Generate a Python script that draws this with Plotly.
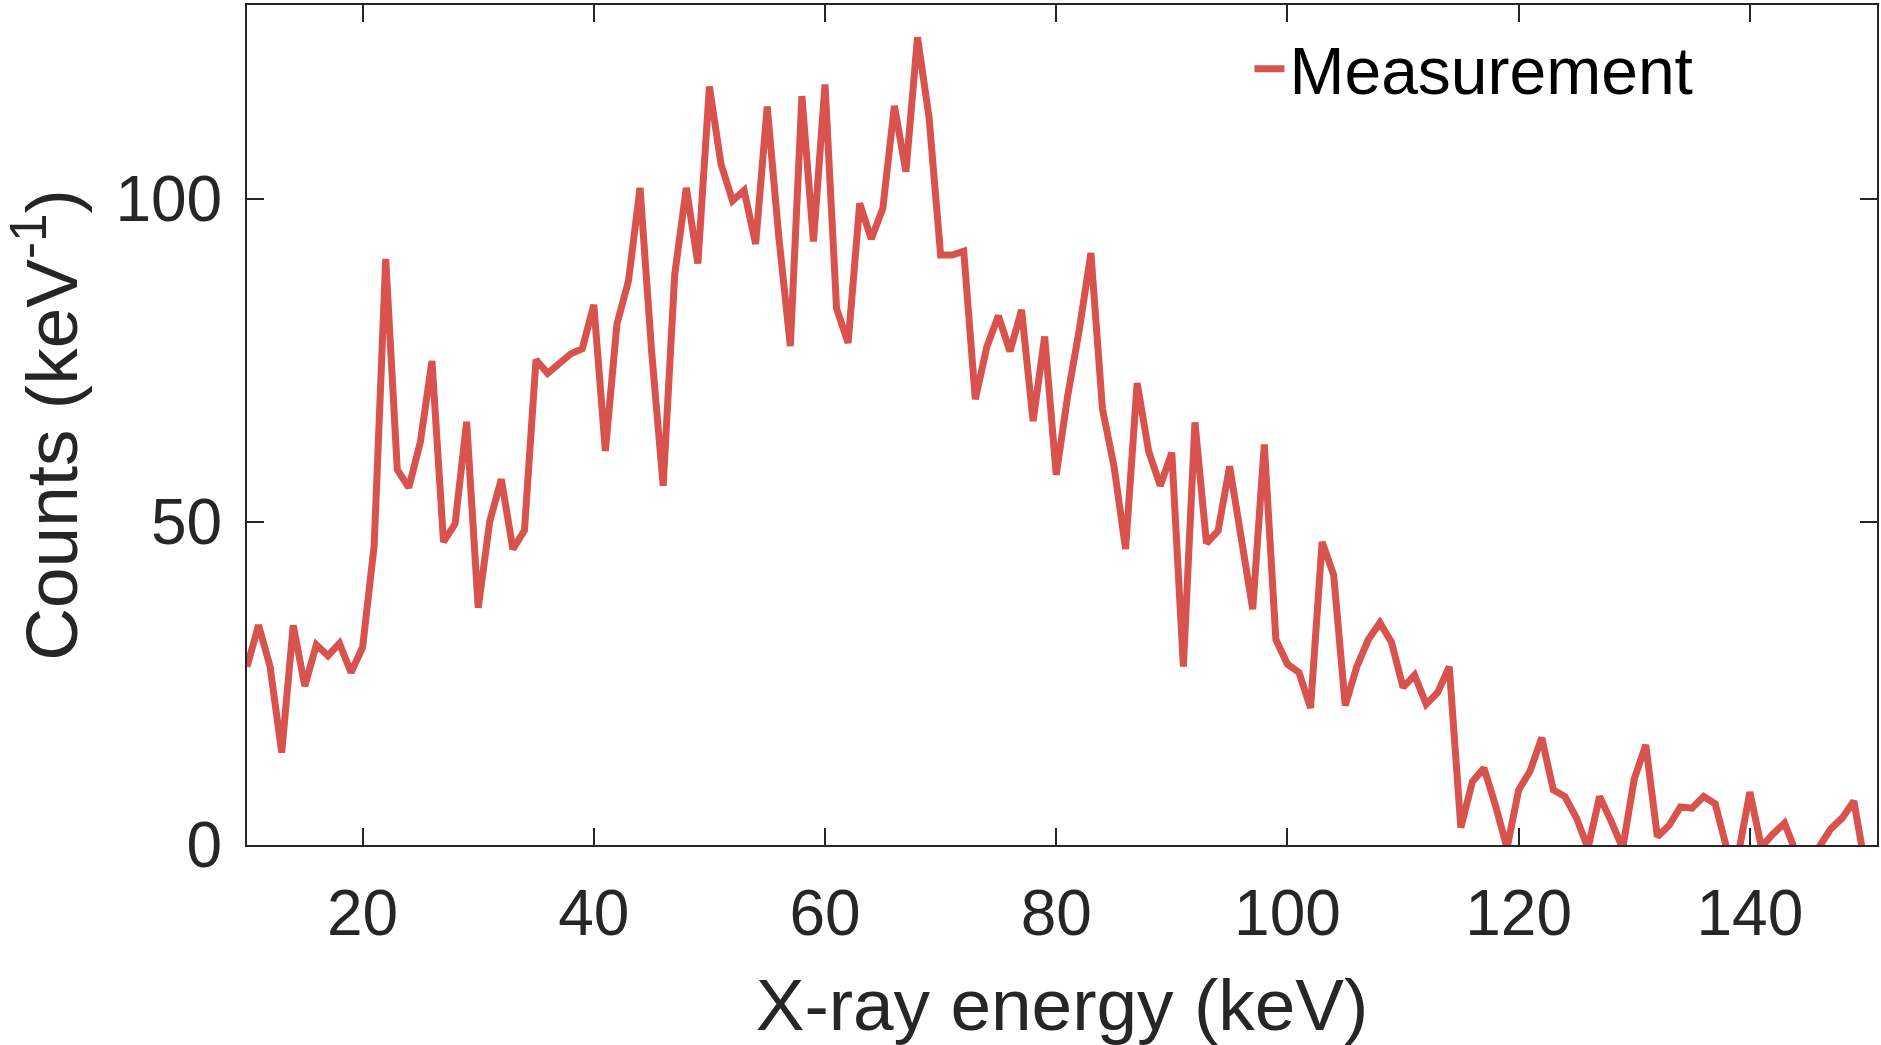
import plotly.graph_objects as go

energy_kev = list(range(10, 152))
counts = [
    27.6, 34.0, 27.6, 14.3, 34.0, 24.6, 31.0, 29.3, 31.2, 26.7,   # 10-19
    30.6, 46.3, 90.7, 58.1, 55.3, 62.4, 74.9, 46.9, 49.7, 65.5,   # 20-29
    36.7, 50.1, 56.6, 45.8, 48.7, 75.1, 73.0, 74.5, 76.0, 76.8,   # 30-39
    83.6, 61.0, 80.6, 87.3, 101.7, 76.4, 55.6, 88.3, 101.7, 90.0, # 40-49
    117.4, 105.4, 99.7, 101.3, 93.0, 114.3, 94.2, 77.2, 115.9, 93.4,  # 50-59
    117.7, 83.0, 77.7, 99.3, 93.8, 98.5, 114.4, 104.2, 125.0, 112.6,  # 60-69
    91.3, 91.3, 91.9, 69.0, 77.1, 81.9, 76.4, 82.8, 65.6, 78.7,   # 70-79
    57.3, 69.6, 79.8, 91.6, 67.5, 58.6, 45.8, 71.5, 60.9, 55.6,   # 80-89
    60.7, 27.6, 65.4, 46.7, 48.6, 58.6, 47.5, 36.5, 62.0, 31.8,   # 90-99
    28.0, 26.7, 21.2, 46.9, 41.8, 21.6, 27.6, 31.8, 34.4, 31.4,   # 100-109
    24.4, 26.3, 21.8, 23.6, 27.6, 2.7, 9.8, 11.9, 6.1, -0.5,      # 110-119
    8.5, 11.5, 16.6, 8.5, 7.5, 4.2, -0.5, 7.5, 3.7, -0.5,         # 120-129
    10.2, 15.5, 1.3, 3.0, 5.9, 5.7, 7.5, 6.4, -0.5, -1.5,         # 130-139
    8.2, -0.3, 1.7, 3.4, -1.2, -3.0, -0.3, 2.5, 4.2, 6.8,         # 140-149
    -3.5, -3.0,                                                    # 150-151
]

x_ticks = [20, 40, 60, 80, 100, 120, 140]
y_ticks = [0, 50, 100]
x_range = [10, 151]
y_range = [0, 130]

series_name = "Measurement"
x_title = "X-ray energy (keV)"
y_title = "Counts (keV<sup>-1</sup>)"

FONT = "Liberation Sans, Arial, Helvetica, sans-serif"
AX = "#262626"

fig = go.Figure()
fig.add_trace(go.Scatter(
    x=energy_kev, y=counts, mode="lines", name=series_name,
    line=dict(color="#D8534E", width=7),
))

axis_common = dict(
    showline=True, linecolor=AX, linewidth=2, mirror="ticks",
    ticks="inside", ticklen=17, tickwidth=2, tickcolor=AX,
    showgrid=False, zeroline=False, automargin=False,
    tickfont=dict(family=FONT, size=64, color=AX),
)

fig.update_layout(
    width=1881, height=1045,
    margin=dict(l=247, r=4, t=5, b=200),
    paper_bgcolor="white", plot_bgcolor="white",
    font=dict(family=FONT, color=AX),
    xaxis=dict(
        range=x_range, tickvals=x_ticks, ticklabelstandoff=11,
        title=dict(text=x_title, font=dict(family=FONT, size=73, color=AX), standoff=44),
        **axis_common,
    ),
    yaxis=dict(
        range=y_range, tickvals=y_ticks, ticklabelstandoff=10,
        title=dict(text=y_title, font=dict(family=FONT, size=73, color=AX), standoff=30),
        **axis_common,
    ),
    showlegend=True,
    legend=dict(
        x=0.615, y=0.983, xanchor="left", yanchor="top",
        bgcolor="rgba(0,0,0,0)", borderwidth=0,
        font=dict(family=FONT, size=66, color="black"),
    ),
)

fig.write_html("out.html")
